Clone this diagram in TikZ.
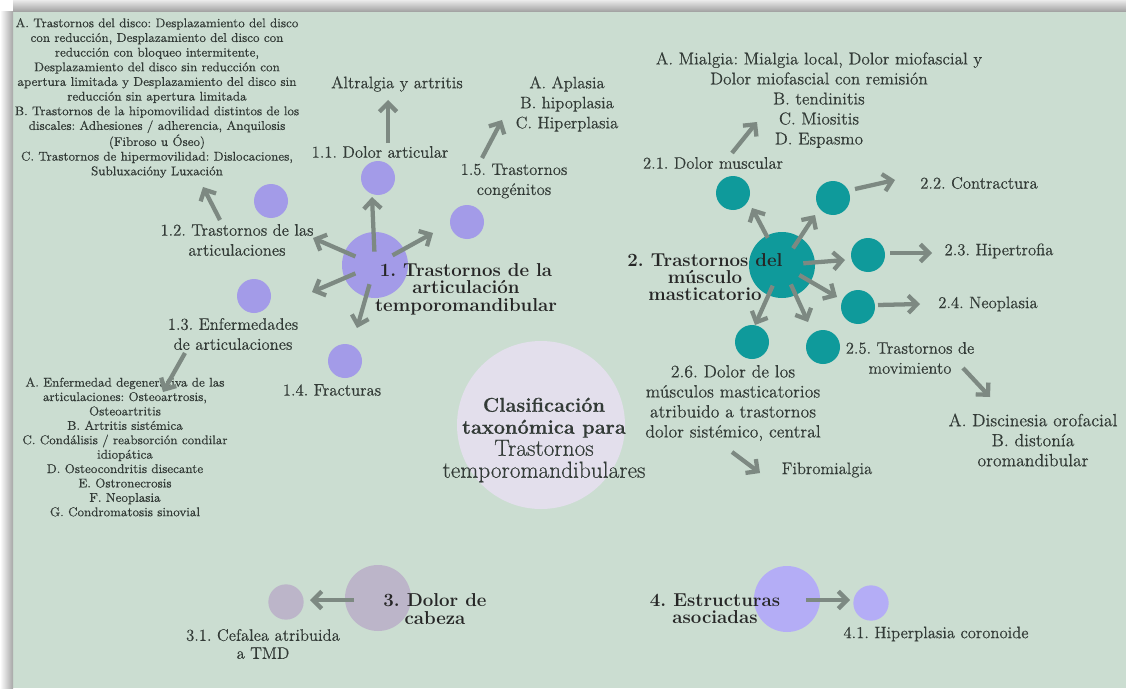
\documentclass[tikz,border=0pt]{standalone}
\usepackage{fontspec}
\newfontfamily\rmthick{Latin Modern Roman}[FakeBold=0.35]
\usetikzlibrary{arrows.meta}
\definecolor{bgc}{HTML}{CBDDD1}
\definecolor{purc}{HTML}{A39BE8}
\definecolor{tealc}{HTML}{0F9A9B}
\definecolor{arrcol}{HTML}{7D8982}
\definecolor{txt}{HTML}{333B37}
\definecolor{ttl}{HTML}{262626}
\definecolor{cenc}{HTML}{E3DFEC}
\definecolor{grc}{HTML}{BCB5C9}
\definecolor{pu4}{HTML}{B4ADF6}
\begin{document}
\frenchspacing
\begin{tikzpicture}[x=0.75pt,y=-0.75pt,
  smalldot/.style={circle, inner sep=0, minimum size=25.5pt, fill=#1},
  bigdot/.style={circle, inner sep=0, minimum size=49.5pt, fill=#1},
  conn/.style={draw=arrcol, line width=3.2pt, -{Straight Barb[length=6.5pt,width=13pt]}},
  smtxt/.style={font=\rmthick\fontsize{9.5}{11}\selectfont, align=center, text=txt, inner sep=0},
  mdtxt/.style={font=\rmthick\fontsize{12.5}{15}\selectfont, align=center, text=txt, inner sep=0},
  lgtxt/.style={font=\rmthick\fontsize{13.3}{15}\selectfont, align=center, text=txt, inner sep=0},
  ttltxt/.style={font=\bfseries\fontsize{14}{13}\selectfont, align=center, text=ttl, inner sep=0},
  centxt/.style={font=\rmthick\fontsize{17.5}{16.5}\selectfont, align=center, text=txt, inner sep=0}]
\useasboundingbox (0,0) rectangle (1126,688);
% background and frame shadow
\fill[white] (0,0) rectangle (1126,688);
\fill[bgc] (13,12) rectangle (1126,688);
\shade[left color=white, right color=black!35] (0,12) rectangle (13,688);
\shade[top color=black!8, bottom color=black!38] (13,0) rectangle (1126,12);

% central circle
\node[circle, inner sep=0, minimum size=126pt, fill=cenc] (cc) at (541,425) {};
\node[centxt] (ct) at (544,440) {{\bfseries\fontsize{15}{16.5}\selectfont Clasificación}\\{\bfseries\fontsize{15}{16.5}\selectfont taxonómica para}\\Trastornos\\temporomandibulares};

% ---------- group 1 ----------
\node[bigdot=purc] (m1) at (375,265) {};
\node[smalldot=purc] (c11) at (378,178) {};
\node[smalldot=purc] (c12) at (271,201) {};
\node[smalldot=purc] (c13) at (254,296) {};
\node[smalldot=purc] (c14) at (345,361) {};
\node[smalldot=purc] (c15) at (467,222) {};
\coordinate (e11) at (372,197);
\coordinate (e12) at (313,238);
\coordinate (e13) at (312,292);
\coordinate (e14) at (357,328);
\coordinate (e15) at (433,233);
\draw[conn, shorten <=10pt] (m1.center) -- (e11);
\draw[conn, shorten <=16pt] (m1.center) -- (e12);
\draw[conn, shorten <=16pt] (m1.center) -- (e13);
\draw[conn, shorten <=15pt] (m1.center) -- (e14);
\draw[conn, shorten <=15pt] (m1.center) -- (e15);

\node[ttltxt] (t1) at (466,289) {1. Trastornos de la\\articulación\\temporomandibular};
\node[mdtxt] (l11) at (380,152) {1.1. Dolor articular};
\node[mdtxt] (l11a) at (397,84) {Altralgia y artritis};
\node[mdtxt] (l12) at (237,240) {1.2. Trastornos de las\\articulaciones};
\node[mdtxt] (l13) at (233,334) {1.3. Enfermedades\\de articulaciones};
\node[mdtxt] (l14) at (332,390) {1.4. Fracturas};
\node[mdtxt] (l15) at (514,181) {1.5. Trastornos\\congénitos};
\node[mdtxt] (l15a) at (567,104) {A. Aplasia\\B. hipoplasia\\C. Hiperplasia};
\node[smtxt] (l12a) at (157,98) {A. Trastornos del disco: Desplazamiento del disco\\con reducción, Desplazamiento del disco con\\reducción con bloqueo intermitente,\\Desplazamiento del disco sin reducción con\\apertura limitada y Desplazamiento del disco sin\\reducción sin apertura limitada\\B. Trastornos de la hipomovilidad distintos de los\\discales: Adhesiones / adherencia, Anquilosis\\(Fibroso u Óseo)\\C. Trastornos de hipermovilidad: Dislocaciones,\\Subluxacióny Luxación};
\node[smtxt, font=\rmthick\fontsize{9.5}{10.8}\selectfont] (l13a) at (125,447) {A. Enfermedad degenerativa de las\\articulaciones: Osteoartrosis,\\Osteoartritis\\B. Artritis sistémica\\C. Condálisis / reabsorción condilar\\idiopática\\D. Osteocondritis disecante\\E. Ostronecrosis\\F. Neoplasia\\G. Condromatosis sinovial};

\coordinate (s11) at (388,143); \coordinate (f11) at (388,100);
\coordinate (s15) at (482,158); \coordinate (f15) at (502,120);
\coordinate (s12) at (220,220); \coordinate (f12) at (203,187);
\coordinate (s13) at (185,353); \coordinate (f13) at (163,392);
\draw[conn] (s11) -- (f11);
\draw[conn] (s15) -- (f15);
\draw[conn] (s12) -- (f12);
\draw[conn] (s13) -- (f13);

% ---------- group 2 ----------
\node[bigdot=tealc] (m2) at (782,265) {};
\node[smalldot=tealc] (c21) at (733,193) {};
\node[smalldot=tealc] (c22) at (833,198) {};
\node[smalldot=tealc] (c23) at (868,255) {};
\node[smalldot=tealc] (c24) at (858,307) {};
\node[smalldot=tealc] (c25) at (823,347) {};
\node[smalldot=tealc] (c26) at (752,342) {};
\coordinate (e21) at (752,208);
\coordinate (e22) at (815,215);
\coordinate (e23) at (845,260);
\coordinate (e24) at (837,297);
\coordinate (e25) at (808,322);
\coordinate (e26) at (755,325);
\draw[conn, shorten <=23pt] (m2.center) -- (e21);
\draw[conn, shorten <=15pt] (m2.center) -- (e22);
\draw[conn, shorten <=16pt] (m2.center) -- (e23);
\draw[conn, shorten <=15pt] (m2.center) -- (e24);
\draw[conn, shorten <=16pt] (m2.center) -- (e25);
\draw[conn, shorten <=17pt] (m2.center) -- (e26);

\node[ttltxt] (t2) at (705,277) {2. Trastornos del\\músculo\\masticatorio};
\node[mdtxt, font=\rmthick\fontsize{12.9}{15}\selectfont] (l21a) at (819,100) {A. Mialgia: Mialgia local, Dolor miofascial y\\Dolor miofascial con remisión\\B. tendinitis\\C. Miositis\\D. Espasmo};
\node[mdtxt] (l21) at (713,163) {2.1. Dolor muscular};
\node[mdtxt] (l22) at (979,183) {2.2. Contractura};
\node[mdtxt] (l23) at (999,251) {2.3. Hipertrofia};
\node[mdtxt] (l24) at (988,304) {2.4. Neoplasia};
\node[mdtxt] (l25) at (910,358) {2.5. Trastornos de\\movimiento};
\node[lgtxt] (l25a) at (1033,440) {A. Discinesia orofacial\\B. distonía\\oromandibular};
\node[lgtxt] (l26) at (733,403) {2.6. Dolor de los\\músculos masticatorios\\atribuido a trastornos\\dolor sistémico, central};
\node[mdtxt] (l26a) at (827,470) {Fibromialgia};

\coordinate (s21) at (732,153); \coordinate (f21) at (757,122);
\coordinate (s22) at (855,189); \coordinate (f22) at (895,180);
\coordinate (s23) at (890,253); \coordinate (f23) at (932,253);
\coordinate (s24) at (878,305); \coordinate (f24) at (920,304);
\coordinate (s25) at (963,368); \coordinate (f25) at (990,397);
\coordinate (s26) at (732,452); \coordinate (f26) at (760,473);
\draw[conn] (s21) -- (f21);
\draw[conn] (s22) -- (f22);
\draw[conn] (s23) -- (f23);
\draw[conn] (s24) -- (f24);
\draw[conn] (s25) -- (f25);
\draw[conn] (s26) -- (f26);

% ---------- group 3 ----------
\node[bigdot=grc] (m3) at (378,598) {};
\node[smalldot=grc, minimum size=26.5pt] (c31) at (286,602) {};
\coordinate (s3) at (354,600); \coordinate (f3) at (310,600);
\draw[conn] (s3) -- (f3);
\node[ttltxt] (t3) at (435,609) {3. Dolor de\\cabeza};
\node[mdtxt, font=\rmthick\fontsize{12.5}{13.5}\selectfont] (l31) at (263,644) {3.1. Cefalea atribuida\\a TMD};

% ---------- group 4 ----------
\node[bigdot=pu4] (m4) at (787,599) {};
\node[smalldot=pu4, minimum size=26.5pt] (c41) at (871,603) {};
\coordinate (s4) at (806,600); \coordinate (f4) at (850,600);
\draw[conn] (s4) -- (f4);
\node[ttltxt] (t4) at (715,609) {4. Estructuras\\asociadas};
\node[mdtxt] (l41) at (936,634) {4.1. Hiperplasia coronoide};
\end{tikzpicture}
\end{document}
